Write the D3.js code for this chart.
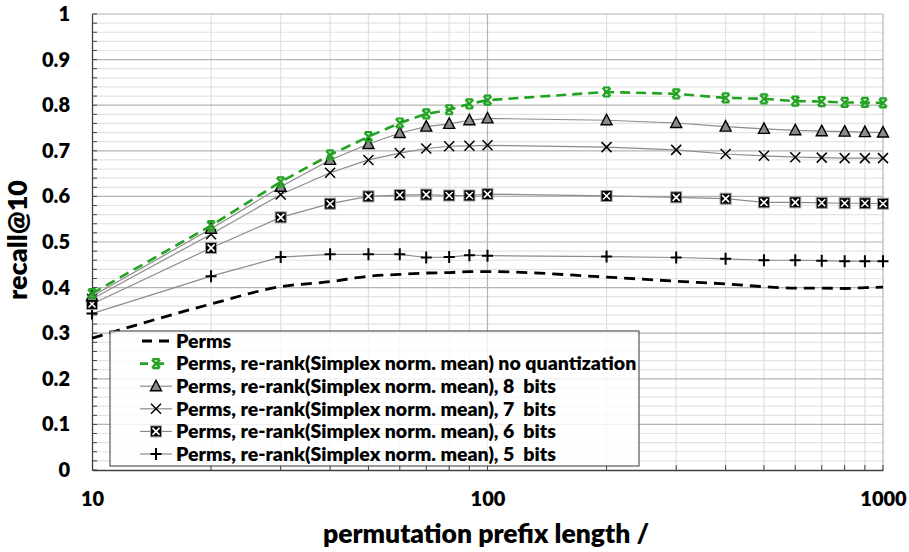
<!DOCTYPE html>
<html>
<head>
<meta charset="utf-8">
<script src="https://cdn.jsdelivr.net/npm/d3@7/dist/d3.min.js"></script>
<style>
  html, body { margin: 0; padding: 0; background: #fff; }
  svg { display: block; font-family: Lato, "Open Sans", sans-serif; font-weight: bold; }
  text { white-space: pre; }
</style>
</head>
<body>
<svg id="chart" width="909" height="552"></svg>
<script>
// Prefix lengths on the log x axis
const prefixLengths = [10, 20, 30, 40, 50, 60, 70, 80, 90, 100, 200, 300, 400, 500, 600, 700, 800, 900, 1000];

// recall@10 for each configuration
const permsOnly   = [0.289, 0.364, 0.402, 0.413, 0.425, 0.429, 0.432, 0.433, 0.435, 0.435, 0.423, 0.414, 0.408, 0.402, 0.399, 0.399, 0.398, 0.400, 0.401];
const noQuant     = [0.387, 0.536, 0.632, 0.691, 0.731, 0.761, 0.781, 0.790, 0.803, 0.811, 0.829, 0.825, 0.816, 0.814, 0.809, 0.808, 0.806, 0.806, 0.805];
const bits8       = [0.381, 0.529, 0.621, 0.680, 0.715, 0.739, 0.753, 0.759, 0.767, 0.771, 0.767, 0.761, 0.753, 0.748, 0.745, 0.743, 0.742, 0.741, 0.740];
const bits7       = [0.375, 0.517, 0.604, 0.652, 0.680, 0.695, 0.705, 0.710, 0.711, 0.712, 0.708, 0.702, 0.693, 0.689, 0.686, 0.685, 0.684, 0.684, 0.684];
const bits6       = [0.364, 0.487, 0.554, 0.584, 0.600, 0.603, 0.604, 0.602, 0.602, 0.605, 0.601, 0.598, 0.595, 0.587, 0.587, 0.586, 0.585, 0.585, 0.584];
const bits5       = [0.343, 0.425, 0.467, 0.473, 0.473, 0.473, 0.466, 0.467, 0.471, 0.470, 0.468, 0.466, 0.463, 0.460, 0.460, 0.459, 0.458, 0.458, 0.458];

const seriesNames = [
  "Perms",
  "Perms, re-rank(Simplex norm. mean) no quantization",
  "Perms, re-rank(Simplex norm. mean), 8  bits",
  "Perms, re-rank(Simplex norm. mean), 7  bits",
  "Perms, re-rank(Simplex norm. mean), 6  bits",
  "Perms, re-rank(Simplex norm. mean), 5  bits"
];

const xTickValues = [10, 100, 1000];
const yTickValues = [0, 0.1, 0.2, 0.3, 0.4, 0.5, 0.6, 0.7, 0.8, 0.9, 1];

const svg = d3.select("#chart");
const plotLeft = 92, plotRight = 883, plotTop = 14, plotBottom = 470;

const x = d3.scaleLog().domain([10, 1000]).range([plotLeft, plotRight]);
const y = d3.scaleLinear().domain([0, 1]).range([plotBottom, plotTop]);

// --- grid ---
const grid = svg.append("g");
const minorY = d3.range(0, 51).map(i => +(i * 0.02).toFixed(2));
grid.selectAll("line.hmin").data(minorY.filter(v => Math.round(v * 100) % 10 !== 0)).join("line")
  .attr("x1", plotLeft).attr("x2", plotRight).attr("y1", d => y(d)).attr("y2", d => y(d))
  .attr("stroke", "#e3e3e3").attr("stroke-width", 1.2);
const minorX = [20, 30, 40, 50, 60, 70, 80, 90, 200, 300, 400, 500, 600, 700, 800, 900];
grid.selectAll("line.vmin").data(minorX).join("line")
  .attr("x1", d => x(d)).attr("x2", d => x(d)).attr("y1", plotTop).attr("y2", plotBottom)
  .attr("stroke", "#e0e0e0").attr("stroke-width", 1.2);
grid.selectAll("line.hmaj").data(yTickValues.filter(v => v > 0)).join("line")
  .attr("x1", plotLeft).attr("x2", plotRight).attr("y1", d => y(d)).attr("y2", d => y(d))
  .attr("stroke", "#b4b4b4").attr("stroke-width", 1.2);
grid.selectAll("line.vmaj").data([100, 1000]).join("line")
  .attr("x1", d => x(d)).attr("x2", d => x(d)).attr("y1", plotTop).attr("y2", plotBottom)
  .attr("stroke", "#b4b4b4").attr("stroke-width", 1.2);

// --- axes ---
const yAxis = d3.axisLeft(y).tickValues(yTickValues).tickSize(0).tickPadding(22)
  .tickFormat(d => d === 0 || d === 1 ? String(d) : d3.format(".1f")(d));
const gy = svg.append("g").attr("transform", `translate(${plotLeft},0)`).call(yAxis);
gy.select(".domain").attr("stroke", "#404040").attr("stroke-width", 1.3);
gy.selectAll("text").attr("font-size", 20).attr("font-weight", 800).attr("fill", "#000")
  .attr("font-family", "Lato, sans-serif");

// inner minor ticks on y axis
svg.append("g").selectAll("line").data(minorY).join("line")
  .attr("x1", plotLeft).attr("x2", plotLeft + 5).attr("y1", d => y(d)).attr("y2", d => y(d))
  .attr("stroke", "#404040").attr("stroke-width", 1);

const xAxis = d3.axisBottom(x).tickValues(xTickValues).tickSize(0).tickPadding(22)
  .tickFormat(d3.format("d"));
const gx = svg.append("g").attr("transform", `translate(0,${plotBottom})`).call(xAxis);
gx.select(".domain").attr("stroke", "#404040").attr("stroke-width", 1.5);
gx.selectAll("text").attr("font-size", 20).attr("font-weight", 800).attr("fill", "#000")
  .attr("font-family", "Lato, sans-serif");

// inner minor ticks on x axis
svg.append("g").selectAll("line").data(minorX.concat([100, 1000])).join("line")
  .attr("x1", d => x(d)).attr("x2", d => x(d)).attr("y1", plotBottom).attr("y2", plotBottom - 5)
  .attr("stroke", "#404040").attr("stroke-width", 1);

// --- axis titles ---
svg.append("text").attr("x", 486).attr("y", 543).attr("text-anchor", "middle")
  .attr("font-size", 26.5).attr("font-weight", 800).attr("fill", "#000").text("permutation prefix length /");
svg.append("text").attr("transform", "translate(27,240) rotate(-90)").attr("text-anchor", "middle")
  .attr("font-size", 27).attr("font-weight", 800).attr("fill", "#000").text("recall@10");

// --- markers ---
const markers = {
  star: g => {
    g.append("path").attr("d", "M-4,-4L4,4M4,-4L-4,4M-3.5,-4.5H3.5M-3.5,4.5H3.5")
      .attr("stroke", "#22a322").attr("stroke-width", 2.2).attr("fill", "none");
  },
  triangle: g => {
    g.append("path").attr("d", "M0,-6L5.5,4.5L-5.5,4.5Z")
      .attr("fill", "#8a8a8a").attr("stroke", "#000").attr("stroke-width", 1.4);
  },
  cross: g => {
    g.append("path").attr("d", "M-5,-5L5,5M5,-5L-5,5")
      .attr("stroke", "#000").attr("stroke-width", 1.5).attr("fill", "none");
  },
  boxcross: g => {
    g.append("rect").attr("x", -5.5).attr("y", -5.5).attr("width", 11).attr("height", 11)
      .attr("fill", "#000").attr("stroke", "#9a9a9a").attr("stroke-width", 1);
    g.append("path").attr("d", "M-3.5,-3.5L3.5,3.5M3.5,-3.5L-3.5,3.5")
      .attr("stroke", "#fff").attr("stroke-width", 1.6).attr("fill", "none");
  },
  plus: g => {
    g.append("path").attr("d", "M-5.5,0H5.5M0,-6V6")
      .attr("stroke", "#000").attr("stroke-width", 2).attr("fill", "none");
  }
};

const series = [
  { values: permsOnly, stroke: "#000", width: 2.8, dash: "11,7", curve: d3.curveMonotoneX, marker: null },
  { values: noQuant, stroke: "#22a322", width: 2.6, dash: "10,6", curve: d3.curveLinear, marker: "star" },
  { values: bits8, stroke: "#8c8c8c", width: 1.2, dash: null, curve: d3.curveLinear, marker: "triangle" },
  { values: bits7, stroke: "#8c8c8c", width: 1.2, dash: null, curve: d3.curveLinear, marker: "cross" },
  { values: bits6, stroke: "#8c8c8c", width: 1.2, dash: null, curve: d3.curveLinear, marker: "boxcross" },
  { values: bits5, stroke: "#8c8c8c", width: 1.2, dash: null, curve: d3.curveLinear, marker: "plus" }
];

const plot = svg.append("g");
// draw bottom-up so the upper curves sit on top
series.slice().reverse().forEach(s => {
  const line = d3.line().x((d, i) => x(prefixLengths[i])).y(d => y(d)).curve(s.curve);
  plot.append("path").datum(s.values).attr("d", line)
    .attr("fill", "none").attr("stroke", s.stroke).attr("stroke-width", s.width)
    .attr("stroke-dasharray", s.dash);
  if (s.marker) {
    s.values.forEach((v, i) => {
      const g = plot.append("g").attr("transform", `translate(${x(prefixLengths[i])},${y(v)})`);
      markers[s.marker](g);
    });
  }
});

// --- legend ---
const lg = svg.append("g");
lg.append("rect").attr("x", 110).attr("y", 331).attr("width", 529).attr("height", 135)
  .attr("fill", "#fff").attr("fill-opacity", 0.8).attr("stroke", "#555").attr("stroke-width", 1.2);
series.forEach((s, i) => {
  const yy = 341 + i * 22.6;
  lg.append("line").attr("x1", 140).attr("x2", 172).attr("y1", yy).attr("y2", yy)
    .attr("stroke", s.stroke).attr("stroke-width", s.width)
    .attr("stroke-dasharray", s.dash ? (i === 0 ? "10,7" : "8,8") : null)
    .attr("stroke-dashoffset", s.dash ? (i === 0 ? -2 : 0) : null);
  if (s.marker) markers[s.marker](lg.append("g").attr("transform", `translate(156,${yy})`));
  lg.append("text").attr("x", 176).attr("y", yy).attr("dy", "0.35em")
    .attr("font-size", 19.5).attr("font-weight", 800).attr("fill", "#000").text(seriesNames[i]);
});
</script>
</body>
</html>
